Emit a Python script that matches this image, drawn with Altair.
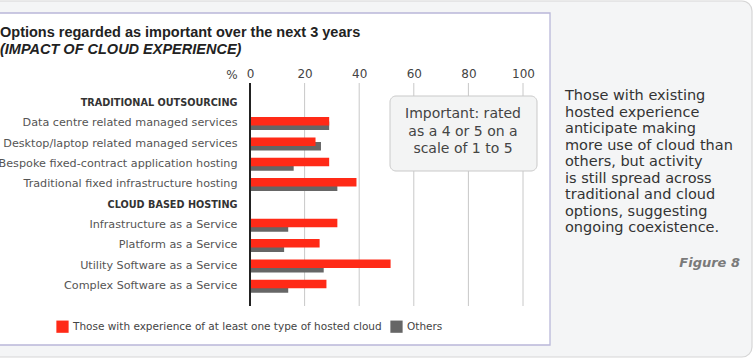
import altair as alt
import pandas as pd

# ---- data ----
rows = [
    "TRADITIONAL OUTSOURCING",
    "Data centre related managed services",
    "Desktop/laptop related managed services",
    "Bespoke fixed-contract application hosting",
    "Traditional fixed infrastructure hosting",
    "CLOUD BASED HOSTING",
    "Infrastructure as a Service",
    "Platform as a Service",
    "Utility Software as a Service",
    "Complex Software as a Service",
]
headers = ["TRADITIONAL OUTSOURCING", "CLOUD BASED HOSTING"]
items = [
    "Data centre related managed services",
    "Desktop/laptop related managed services",
    "Bespoke fixed-contract application hosting",
    "Traditional fixed infrastructure hosting",
    "Infrastructure as a Service",
    "Platform as a Service",
    "Utility Software as a Service",
    "Complex Software as a Service",
]
cloud_exp = [29, 24, 29, 39, 32, 25.5, 51.5, 28]
others = [29, 26, 16, 32, 14, 12.5, 27, 14]
series = ["Those with experience of at least one type of hosted cloud", "Others"]
colors = ["#FF2A17", "#666666"]
ticks = [0, 20, 40, 60, 80, 100]

title = "Options regarded as important over the next 3 years"
subtitle = "(IMPACT OF CLOUD EXPERIENCE)"
callout = ["Important: rated", "as a 4 or 5 on a", "scale of 1 to 5"]
note = [
    "Those with existing",
    "hosted experience",
    "anticipate making",
    "more use of cloud than",
    "others, but activity",
    "is still spread across",
    "traditional and cloud",
    "options, suggesting",
    "ongoing coexistence.",
]
fig_label = "Figure 8"

df = pd.DataFrame(
    {"item": items * 2,
     "series": [series[0]] * len(items) + [series[1]] * len(items),
     "value": cloud_exp + others}
)
tick_df = pd.DataFrame({"t": ticks[1:]})
one = pd.DataFrame({"a": [0]})

FONT = "DejaVu Sans"
TFONT = "Liberation Sans"
W, H = 273, 223
X0, Y0 = 250, 83

xscale = alt.Scale(domain=[0, 100], nice=False, zero=True)
yscale = alt.Scale(domain=rows, paddingInner=0, paddingOuter=0.48)
cscale = alt.Scale(domain=series, range=colors)

# ---- decorative panels ----
outer = alt.Chart(one).mark_rect(
    fill="#f4f5f6", stroke="#d6d6d6", strokeWidth=1.2, cornerRadius=10
).encode(x=alt.value(-270), x2=alt.value(752 - X0), y=alt.value(1 - Y0), y2=alt.value(357 - Y0))

panel = alt.Chart(one).mark_rect(
    fill="white", stroke="#b9b7d9", strokeWidth=1.3
).encode(x=alt.value(-270), x2=alt.value(550 - X0), y=alt.value(13 - Y0), y2=alt.value(345 - Y0))

title_t = alt.Chart(one).mark_text(
    align="left", baseline="middle", font=TFONT, fontSize=14.5, fontWeight="bold", color="#222"
).encode(x=alt.value(0 - X0), y=alt.value(33 - Y0), text=alt.value(title))

sub_t = alt.Chart(one).mark_text(
    align="left", baseline="middle", font=TFONT, fontSize=14.5, fontWeight="bold",
    fontStyle="italic", color="#222"
).encode(x=alt.value(0 - X0), y=alt.value(50 - Y0), text=alt.value(subtitle))

pct = alt.Chart(one).mark_text(
    align="center", baseline="middle", font=FONT, fontSize=12, color="#444"
).encode(x=alt.value(232 - X0), y=alt.value(75 - Y0), text=alt.value("%"))

grid = alt.Chart(tick_df).mark_rule(color="#c8c8c8", strokeWidth=1).encode(
    x=alt.X("t:Q", scale=xscale), y=alt.value(0), y2=alt.value(H)
)

zero = alt.Chart(one).mark_rule(color="#222", strokeWidth=2).encode(
    x=alt.datum(0, scale=xscale), y=alt.value(0), y2=alt.value(H)
)

box = alt.Chart(one).mark_rect(
    fill="#f3f4f4", stroke="#c9c9c9", strokeWidth=1, cornerRadius=6
).encode(x=alt.value(390 - X0), x2=alt.value(537 - X0), y=alt.value(96 - Y0), y2=alt.value(171 - Y0))

box_t = alt.Chart(one).mark_text(
    align="center", baseline="middle", font=FONT, fontSize=14, color="#444", lineHeight=17.5
).encode(x=alt.value(463 - X0), y=alt.value(114 - Y0), text=alt.value(callout))

note_t = alt.Chart(one).mark_text(
    align="left", baseline="top", font=FONT, fontSize=14.5, color="#333", lineHeight=16.5
).encode(x=alt.value(565 - X0), y=alt.value(89 - Y0), text=alt.value(note))

fig_t = alt.Chart(one).mark_text(
    align="right", baseline="middle", font=FONT, fontSize=13, fontWeight="bold",
    fontStyle="italic", color="#7a7a7a"
).encode(x=alt.value(740 - X0), y=alt.value(263 - Y0), text=alt.value(fig_label))

# ---- bars ----
is_header = "indexof(" + str(headers) + ", datum.value) >= 0"
label_weight = {"condition": {"test": is_header, "value": "bold"}, "value": "normal"}
label_color = {"condition": {"test": is_header, "value": "#333"}, "value": "#555"}
label_size = {"condition": {"test": is_header, "value": 9.7}, "value": 11.2}

base = alt.Chart(df).encode(
    x=alt.X("value:Q", scale=xscale,
            axis=alt.Axis(orient="top", values=ticks, grid=False, ticks=False, domain=False,
                          labelFont=FONT, labelFontSize=12, labelColor="#444", labelPadding=3,
                          labelFlush=False, title=None, zindex=1)),
    y=alt.Y("item:N", scale=yscale,
            axis=alt.Axis(title=None, ticks=False, domain=False, labelPadding=13,
                          labelFont=FONT, labelFontSize=label_size, labelLimit=300,
                          labelFontWeight=label_weight, labelColor=label_color, zindex=1)),
    color=alt.Color("series:N", scale=cscale,
                    legend=alt.Legend(title=None, orient="none", direction="horizontal",
                                      legendX=56 - X0, legendY=320 - Y0,
                                      symbolType="square", symbolSize=150, symbolStrokeWidth=0,
                                      labelFont=FONT, labelFontSize=10.5, labelColor="#444",
                                      columnPadding=8, labelLimit=400)),
)
gray_bars = base.transform_filter(alt.datum.series == series[1]).mark_bar(size=8.5, yOffset=2.5)
red_bars = base.transform_filter(alt.datum.series == series[0]).mark_bar(size=8.5, yOffset=-2)

chart = alt.layer(
    outer, panel, title_t, sub_t, pct, grid, box, box_t, note_t, fig_t,
    gray_bars, red_bars, zero
).properties(
    width=W, height=H,
    padding={"left": X0, "top": Y0, "right": 755 - X0 - W, "bottom": 360 - Y0 - H},
    autosize=alt.AutoSizeParams(type="none"),
    background="white",
).configure_view(stroke=None)

chart.save("out.html", embed_options={"renderer": "svg", "actions": False})
